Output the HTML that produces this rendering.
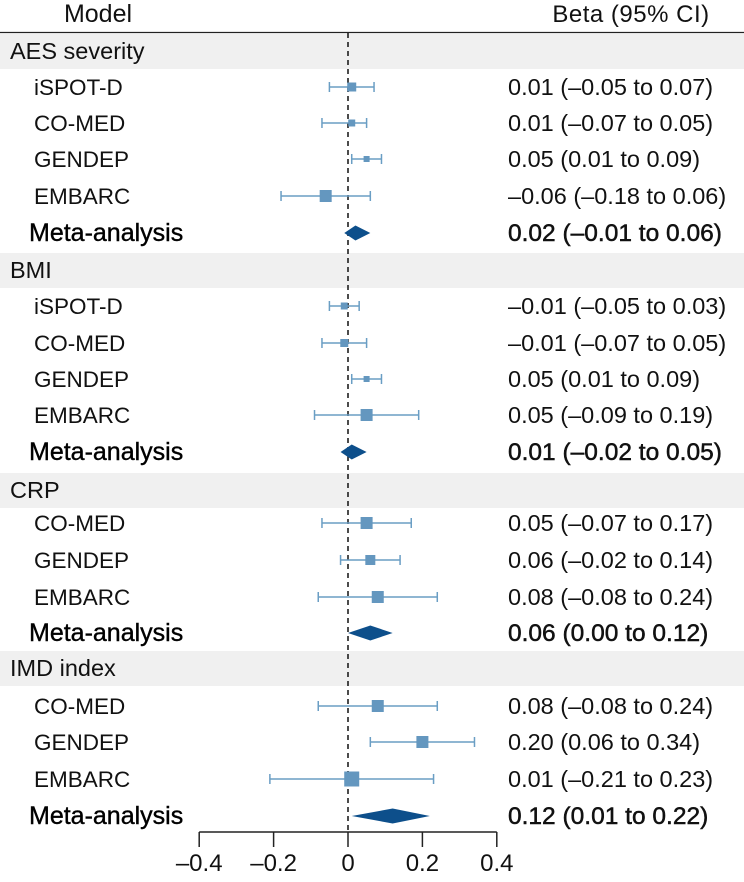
<!DOCTYPE html>
<html><head><meta charset="utf-8"><style>
body{margin:0;background:#fff;}
svg{display:block;font-family:"Liberation Sans","DejaVu Sans",sans-serif;}
</style></head><body>
<svg id="c" width="744" height="882"></svg>
<script>
const groups=["AES severity","BMI","CRP","IMD index"];
const groupY=[51,270,490,668];
const labels=["iSPOT-D","CO-MED","GENDEP","EMBARC","Meta-analysis","iSPOT-D","CO-MED","GENDEP","EMBARC","Meta-analysis","CO-MED","GENDEP","EMBARC","Meta-analysis","CO-MED","GENDEP","EMBARC","Meta-analysis"];
const rowY=[87,123,159,196,233,306,343,379,415,452,523,560,597,633,706,742,779,816];
const est=[0.01,0.01,0.05,-0.06,0.02,-0.01,-0.01,0.05,0.05,0.01,0.05,0.06,0.08,0.06,0.08,0.20,0.01,0.12];
const lo=[-0.05,-0.07,0.01,-0.18,-0.01,-0.05,-0.07,0.01,-0.09,-0.02,-0.07,-0.02,-0.08,0.00,-0.08,0.06,-0.21,0.01];
const hi=[0.07,0.05,0.09,0.06,0.06,0.03,0.05,0.09,0.19,0.05,0.17,0.14,0.24,0.12,0.24,0.34,0.23,0.22];
const weight=[9,7,6,12,0,7,8,6,12,0,12,10,12,0,12,12,15,0];
const isMeta=[0,0,0,0,1,0,0,0,0,1,0,0,0,1,0,0,0,1];
const ciText=["0.01 (–0.05 to 0.07)","0.01 (–0.07 to 0.05)","0.05 (0.01 to 0.09)","–0.06 (–0.18 to 0.06)","0.02 (–0.01 to 0.06)","–0.01 (–0.05 to 0.03)","–0.01 (–0.07 to 0.05)","0.05 (0.01 to 0.09)","0.05 (–0.09 to 0.19)","0.01 (–0.02 to 0.05)","0.05 (–0.07 to 0.17)","0.06 (–0.02 to 0.14)","0.08 (–0.08 to 0.24)","0.06 (0.00 to 0.12)","0.08 (–0.08 to 0.24)","0.20 (0.06 to 0.34)","0.01 (–0.21 to 0.23)","0.12 (0.01 to 0.22)"];
const ticks=[-0.4,-0.2,0,0.2,0.4];
const tickLabels=["–0.4","–0.2","0","0.2","0.4"];
const svg=document.getElementById('c');
const NS="http://www.w3.org/2000/svg";
const x=v=>348+v*372;
function mk(t,a,txt){const e=document.createElementNS(NS,t);for(const k in a)e.setAttribute(k,a[k]);if(txt!=null)e.textContent=txt;svg.appendChild(e);return e;}
let e;
e=mk('text',{x:98,y:22,'font-size':25,'text-anchor':'middle',fill:'#111'},'Model');


e=mk('text',{x:631,y:22,'font-size':24,'text-anchor':'middle',fill:'#111','letter-spacing':'0.5'},'Beta (95% CI)');


e=mk('line',{x1:0,x2:744,y1:32.5,y2:32.5,stroke:'#222','stroke-width':1.2});


groups.forEach((g,i)=>{
  e=mk('rect',{x:0,y:groupY[i]-17,width:744,height:35,fill:'#f0f0f0'});
  
  
  e=mk('text',{x:10,y:groupY[i]+8,'font-size':23.5,fill:'#111'},g);
  
  
});
e=mk('line',{x1:x(0),x2:x(0),y1:33,y2:832,stroke:'#111','stroke-width':1.5,'stroke-dasharray':'5,4'});


labels.forEach((l,i)=>{
  const y=rowY[i];
  e=mk('text',{x:isMeta[i]?29:34,y:y+8,'font-size':isMeta[i]?25:22.5,fill:isMeta[i]?'#000':'#111',stroke:isMeta[i]?'#000':'none','stroke-width':0.4},l);
  
  
  e=mk('text',{x:508,y:y+8,'font-size':isMeta[i]?24.5:23.5,fill:'#111',stroke:isMeta[i]?'#111':'none','stroke-width':0.5},ciText[i]);
  
  
  if(isMeta[i]){
    e=mk('polygon',{points:`${x(lo[i])},${y} ${x(est[i])},${y-7.5} ${x(hi[i])},${y} ${x(est[i])},${y+7.5}`,fill:'#0d4f8b'});
    
    
  }else{
    e=mk('line',{x1:x(lo[i]),x2:x(hi[i]),y1:y,y2:y,stroke:'#6a9ec4','stroke-width':1.5});
    
    
    [lo[i],hi[i]].forEach(v=>{
      e=mk('line',{x1:x(v),x2:x(v),y1:y-5,y2:y+5,stroke:'#6a9ec4','stroke-width':1.5});
      
      
    });
    const w=weight[i];
    e=mk('rect',{x:x(est[i])-w/2,y:y-w/2,width:w,height:w,fill:'#6497bf'});
    
    
  }
});
e=mk('line',{x1:x(-0.4),x2:x(0.4),y1:832,y2:832,stroke:'#222','stroke-width':1.5});


ticks.forEach((t,i)=>{
  e=mk('line',{x1:x(t),x2:x(t),y1:832,y2:847,stroke:'#222','stroke-width':1.5});
  
  
  e=mk('text',{x:x(t),y:871,'font-size':24,'text-anchor':'middle',fill:'#111'},tickLabels[i]);
  
  
});
</script>
</body></html>
